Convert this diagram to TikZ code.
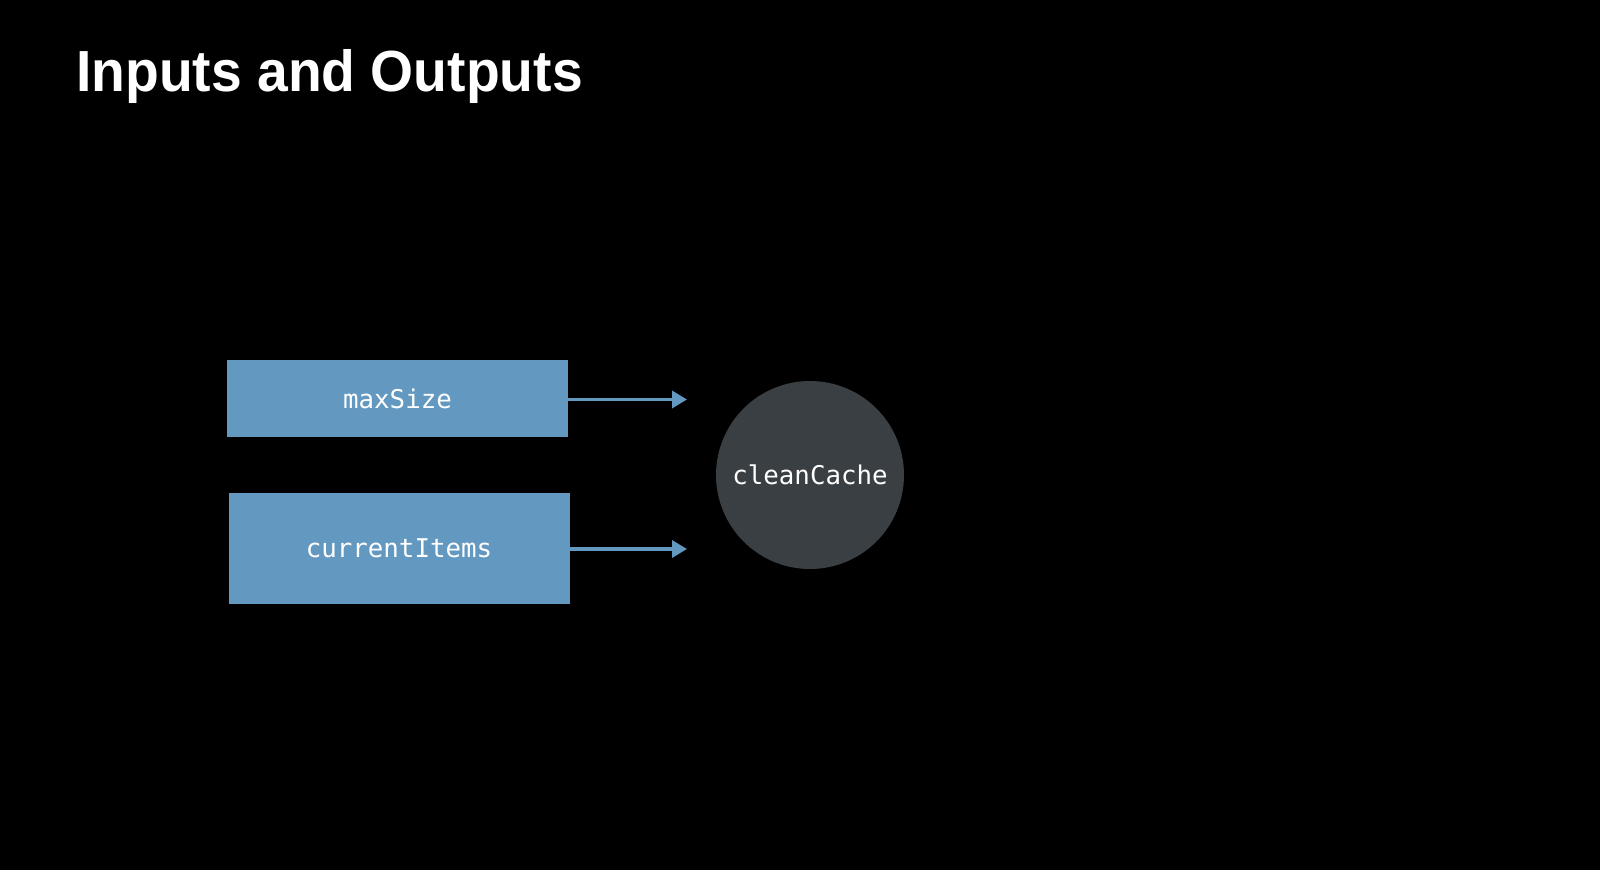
\documentclass[tikz,border=0pt]{standalone}
\usepackage{fontspec}
\setmainfont{Liberation Sans}
\setmonofont{DejaVu Sans Mono}
\usetikzlibrary{arrows.meta}
\definecolor{boxblue}{HTML}{6398C0}
\definecolor{circgray}{HTML}{3A3F44}
\begin{document}
\begin{tikzpicture}[x=1pt,y=-1pt,
  inbox/.style={fill=boxblue, draw=none, inner sep=0pt, minimum width=341pt,
    font=\ttfamily\fontsize{25.8}{30}\selectfont, text=white},
  func/.style={circle, fill=circgray, draw=none, inner sep=0pt, minimum size=188pt,
    font=\ttfamily\fontsize{25.8}{30}\selectfont, text=white},
  flow/.style={draw=boxblue, line width=3.4pt, -{Triangle[length=15pt,width=17pt]}},
  titlestyle/.style={text=white, inner sep=0pt, anchor=base west,
    font=\bfseries\fontsize{58}{64}\selectfont}]
\fill[black] (0,0) rectangle (1600,870);
\useasboundingbox (0,0) rectangle (1600,870);
\node[titlestyle] (title) at (76,91.5) {\scalebox{0.953}[1]{Inputs and Outputs}};
\node[inbox, minimum height=77pt] (max) at (397.5,398.5) {maxSize};
\node[inbox, minimum height=111pt] (cur) at (399,548.5) {currentItems};
\node[func] (clean) at (810,475) {cleanCache};
\coordinate (a1) at (687,399.5);
\coordinate (a2) at (687,549);
\draw[flow] (max.east |- a1) -- (a1);
\draw[flow] (cur.east |- a2) -- (a2);
\end{tikzpicture}
\end{document}
